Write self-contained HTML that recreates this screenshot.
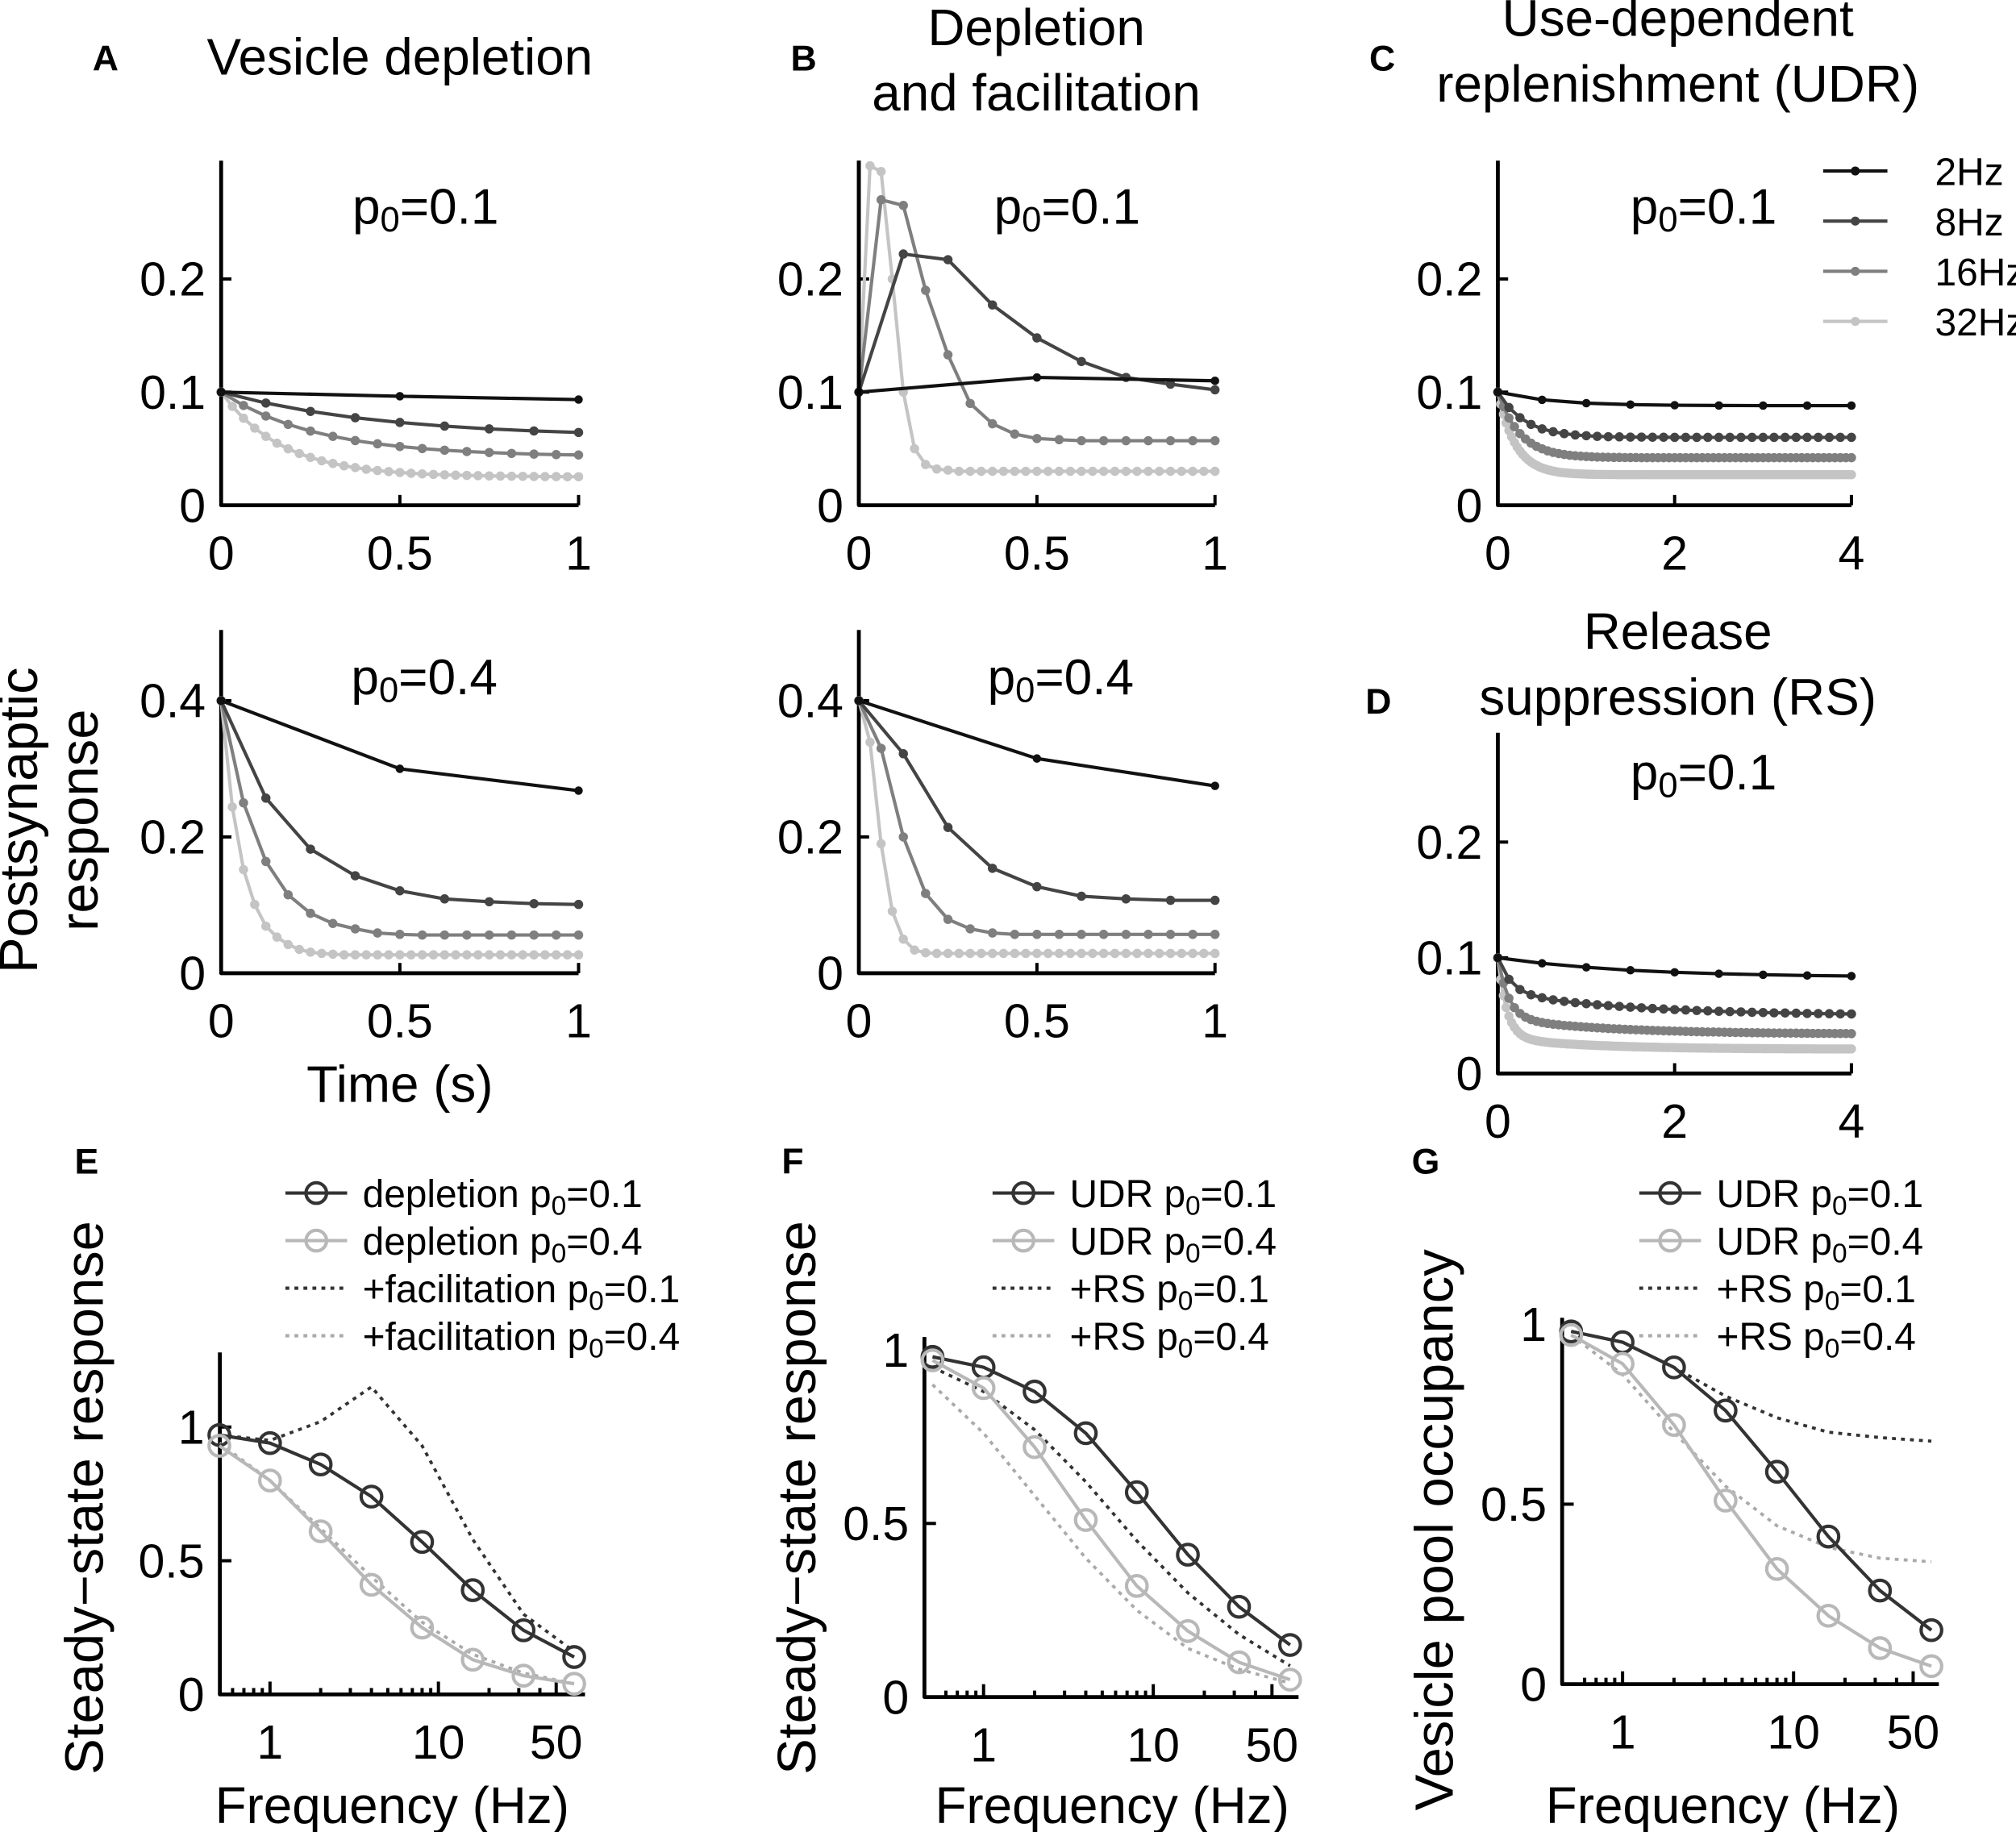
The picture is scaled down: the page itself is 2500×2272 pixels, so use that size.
<!DOCTYPE html>
<html><head><meta charset="utf-8"><style>
html,body{margin:0;padding:0;background:#fff}
svg{display:block}
text{font-family:"Liberation Sans",Arial,sans-serif;fill:#000}
</style></head><body>
<svg id="s" width="2500" height="2272" viewBox="0 0 1568 1425" xmlns="http://www.w3.org/2000/svg">
<g font-size="28" font-weight="bold">
<text x="72" y="55">A</text><text x="615" y="55">B</text><text x="1065" y="55">C</text>
<text x="1062" y="555">D</text><text x="58" y="913">E</text><text x="608" y="913">F</text><text x="1098" y="913">G</text>
</g>
<g font-size="40" text-anchor="middle">
<text x="311" y="58">Vesicle depletion</text>
<text x="806" y="35">Depletion</text><text x="806" y="86">and facilitation</text>
<text x="1305" y="28">Use-dependent</text><text x="1305" y="79">replenishment (UDR)</text>
<text x="1305" y="505">Release</text><text x="1305" y="556">suppression (RS)</text>
<text x="311" y="857">Time (s)</text>
<text x="305" y="1418">Frequency (Hz)</text><text x="865" y="1418">Frequency (Hz)</text><text x="1340" y="1418">Frequency (Hz)</text>
</g>
<g font-size="42" text-anchor="middle">
<text transform="translate(29,638) rotate(-90)">Postsynaptic</text>
<text transform="translate(76,638) rotate(-90)">response</text>
<text transform="translate(80,1165) rotate(-90)">Steady−state response</text>
<text transform="translate(634,1165) rotate(-90)">Steady−state response</text>
<text transform="translate(1130,1190) rotate(-90)">Vesicle pool occupancy</text>
</g>
<g id="g"></g>
</svg>
<script>
var g=document.getElementById('g'),h='';
function T(x,y,s,sz,a){h+='<text x="'+x+'" y="'+y+'" font-size="'+(sz||36)+'" text-anchor="'+(a||'middle')+'">'+s+'</text>';}
function L(pts,c,w,d){h+='<polyline fill="none" stroke="'+c+'" stroke-width="'+w+'" '+(d?'stroke-dasharray="'+d+'" ':'')+'stroke-linejoin="round" points="'+pts.map(function(p){return p[0].toFixed(1)+','+p[1].toFixed(1)}).join(' ')+'"/>';}
function D(pts,c,r){pts.forEach(function(p){h+='<circle cx="'+p[0].toFixed(1)+'" cy="'+p[1].toFixed(1)+'" r="'+r+'" fill="'+c+'"/>';});}
function O(pts,c){pts.forEach(function(p){h+='<circle cx="'+p[0].toFixed(1)+'" cy="'+p[1].toFixed(1)+'" r="8" fill="#fff" fill-opacity="0" stroke="'+c+'" stroke-width="2.6"/>';});}
function P(x){return '<tspan>p</tspan><tspan font-size="0.7em" dy="6">0</tspan><tspan dy="-6">'+x+'</tspan>';}
var C=['#111','#444','#7f7f7f','#c4c4c4'],F=[2,8,16,32];
function panel(x0,x1,xmax,xt,y0,ytop,yscale,yt,ylab){
 L([[x0,ytop],[x0,y0],[x1,y0]],'#000',3);
 yt.forEach(function(v,i){var y=y0-v*yscale; if(v>0)L([[x0,y],[x0+8,y]],'#000',2.5); T(x0-12,y+13,ylab[i],37,'end');});
 xt.forEach(function(v){var x=x0+(x1-x0)*v/xmax; if(v>0)L([[x,y0],[x,y0-8]],'#000',2.5); T(x,y0+50,String(v),37);});
}
function series(x0,x1,xmax,y0,ys,fn,tmax){
 for(var k=3;k>=0;k--){var f=F[k],pts=[];var n=Math.round(tmax*f);
  for(var i=0;i<=n;i++){var t=i/f;pts.push([x0+(x1-x0)*t/xmax,y0-fn(k,i,t)*ys]);}
  L(pts,C[k],2.6);D(pts,C[k],k==0?3.3:3.6);}
}
function ex(ss,tau,a){return function(t){return ss+(a-ss)*Math.exp(-t/tau);};}
function arr(a){return function(k,i){var s=a[k];return i<s.length?s[i]:s[s.length-1];};}
// A top
panel(172,450,1,[0,0.5,1],393,125,880,[0,0.1,0.2],['0','0.1','0.2']);
var At=[ex(0.08,2.5,0.1),ex(0.06,0.45,0.1),ex(0.043,0.27,0.1),ex(0.025,0.17,0.1)];
series(172,450,1,393,880,function(k,i,t){return At[k](t)},1);
T(331,174,P('=0.1'),39);
// A bottom
panel(172,450,1,[0,0.5,1],757,490,530,[0,0.2,0.4],['0','0.2','0.4']);
series(172,450,1,757,530,arr([[0.4,0.3,0.268],[0.4,0.257,0.182,0.143,0.121,0.109,0.105,0.102,0.101],
[0.4,0.25,0.164,0.115,0.088,0.073,0.065,0.059,0.057,0.056],
[0.4,0.244,0.152,0.101,0.069,0.053,0.042,0.035,0.031,0.029,0.028,0.027]]),1);
T(330,540,P('=0.4'),39);
// B top
panel(668,945,1,[0,0.5,1],393,125,880,[0,0.1,0.2],['0','0.1','0.2']);
series(668,945,1,393,880,arr([[0.1,0.113,0.11],[0.1,0.222,0.217,0.177,0.148,0.127,0.113,0.107,0.102],
[0.1,0.27,0.265,0.19,0.133,0.09,0.072,0.063,0.059,0.058,0.057],[0.1,0.3,0.295,0.2,0.1,0.05,0.036,0.032,0.031,0.03]]),1);
L([[668,125],[668,393]],'#000',3);
T(830,174,P('=0.1'),39);
// B bottom
panel(668,945,1,[0,0.5,1],757,490,530,[0,0.2,0.4],['0','0.2','0.4']);
series(668,945,1,757,530,arr([[0.4,0.315,0.275],[0.4,0.322,0.214,0.154,0.127,0.113,0.109,0.107,0.107],
[0.4,0.33,0.2,0.117,0.079,0.065,0.059,0.057],[0.4,0.339,0.19,0.091,0.05,0.034,0.03,0.029]]),1);
T(825,540,P('=0.4'),39);
// C
panel(1165,1440,4,[0,2,4],393,125,880,[0,0.1,0.2],['0','0.1','0.2']);
var Ct=[ex(0.088,0.6,0.1),ex(0.06,0.3,0.1),ex(0.042,0.25,0.1),ex(0.027,0.2,0.1)];
series(1165,1440,4,393,880,function(k,i,t){return Ct[k](t)},4);
T(1325,174,P('=0.1'),39);
// D
panel(1165,1440,4,[0,2,4],835,570,900,[0,0.1,0.2],['0','0.1','0.2']);
var Dt=[function(t){return 0.083+0.017*Math.exp(-t/1.5)},function(t){return 0.05+0.02*Math.exp(-t/1.5)+0.03*Math.exp(-t/0.15)},
function(t){return 0.034+0.014*Math.exp(-t/1.2)+0.052*Math.exp(-t/0.12)},function(t){return 0.021+0.01*Math.exp(-t/1)+0.069*Math.exp(-t/0.1)}];
series(1165,1440,4,835,900,function(k,i,t){return Dt[k](t)},4);
T(1325,614,P('=0.1'),39);
// legend C
['2Hz','8Hz','16Hz','32Hz'].forEach(function(s,i){var y=133+39*i;L([[1418,y],[1468,y]],C[i],2.6);D([[1443,y]],C[i],3.5);T(1505,y+11,s,30,'start');});
function fpanel(x0,x1,c1,dec,y0,ytop,ys,ylab){
 L([[x0,ytop],[x0,y0],[x1,y0]],'#000',3);
 [0,0.5,1].forEach(function(v,i){var y=y0-v*ys;if(v>0)L([[x0,y],[x0+9,y]],'#000',2.5);T(x0-12,y+13,ylab[i],37,'end');});
 [0.6,0.7,0.8,0.9,1,2,3,4,5,6,7,8,9,10,20,30,40,50].forEach(function(v){var x=c1+dec*Math.log10(v);var big=(v==1||v==10||v==50);L([[x,y0],[x,y0-(big?10:5)]],'#000',2.5);});
 [[1,'1'],[10,'10'],[50,'50']].forEach(function(a){T(c1+dec*Math.log10(a[0]),y0+50,a[1],37);});
}
var fr=[0.5,1,2,4,8,16,32,64];
function fs(c1,dec,y0,ys,vals,col,dash,circ){var pts=vals.map(function(v,i){return [c1+dec*Math.log10(fr[i]),y0-v*ys]});
 L(pts,col,dash?2.4:2.6,dash);if(circ)O(pts,col);}
function leg(x,y,items){items.forEach(function(it,i){var yy=y+37*i;L([[x,yy],[x+48,yy]],it[1],2.6,it[2]);if(!it[2])O([[x+24,yy]],it[1]);T(x+60,yy+11,it[0],30,'start');});}
// E
fpanel(171,455,210,131,1318,1052,208,['0','0.5','1']);
fs(210,131,1318,208,[0.97,0.95,1.02,1.15,0.93,0.58,0.3,0.16],'#333','3,4');
fs(210,131,1318,208,[0.94,0.8,0.62,0.44,0.27,0.15,0.08,0.04],'#aaa','3,4');
fs(210,131,1318,208,[0.97,0.94,0.86,0.74,0.57,0.39,0.24,0.14],'#333',0,1);
fs(210,131,1318,208,[0.93,0.8,0.61,0.41,0.25,0.13,0.07,0.04],'#b8b8b8',0,1);
leg(222,928,[['depletion '+P('=0.1'),'#333'],['depletion '+P('=0.4'),'#b8b8b8'],['+facilitation '+P('=0.1'),'#333','3,4'],['+facilitation '+P('=0.4'),'#aaa','3,4']]);
// F
fpanel(719,1010,765,132,1320,1040,270,['0','0.5','1']);
fs(765,132,1320,270,[0.95,0.88,0.77,0.62,0.45,0.3,0.18,0.09],'#333','3,4');
fs(765,132,1320,270,[0.9,0.76,0.58,0.4,0.25,0.14,0.08,0.04],'#aaa','3,4');
fs(765,132,1320,270,[0.98,0.95,0.88,0.76,0.59,0.41,0.26,0.15],'#333',0,1);
fs(765,132,1320,270,[0.97,0.89,0.72,0.51,0.32,0.19,0.1,0.05],'#b8b8b8',0,1);
leg(772,928,[['UDR '+P('=0.1'),'#333'],['UDR '+P('=0.4'),'#b8b8b8'],['+RS '+P('=0.1'),'#333','3,4'],['+RS '+P('=0.4'),'#aaa','3,4']]);
// G
fpanel(1215,1508,1262,133,1310,1025,280,['0','0.5','1']);
fs(1262,133,1310,280,[0.98,0.95,0.88,0.8,0.74,0.7,0.685,0.675],'#333','3,4');
fs(1262,133,1310,280,[0.97,0.86,0.7,0.55,0.44,0.38,0.35,0.34],'#aaa','3,4');
fs(1262,133,1310,280,[0.98,0.95,0.88,0.76,0.59,0.41,0.26,0.15],'#333',0,1);
fs(1262,133,1310,280,[0.97,0.89,0.72,0.51,0.32,0.19,0.1,0.05],'#b8b8b8',0,1);
leg(1275,928,[['UDR '+P('=0.1'),'#333'],['UDR '+P('=0.4'),'#b8b8b8'],['+RS '+P('=0.1'),'#333','3,4'],['+RS '+P('=0.4'),'#aaa','3,4']]);
g.innerHTML=h;
</script>
</body></html>
